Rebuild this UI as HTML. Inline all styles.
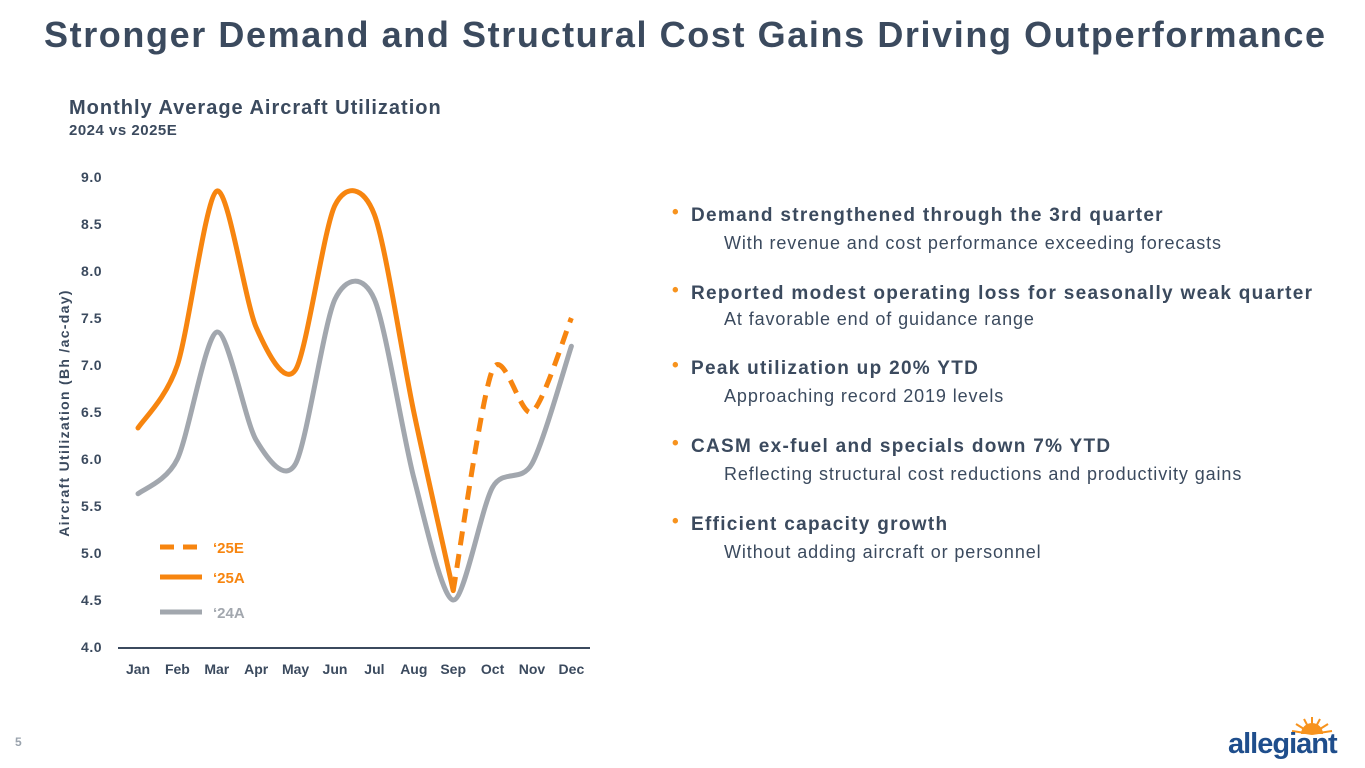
<!DOCTYPE html>
<html><head><meta charset="utf-8"><style>
body{margin:0;width:1365px;height:768px;background:#fff;font-family:"Liberation Sans",sans-serif;overflow:hidden;position:relative}
.t{position:absolute;white-space:nowrap}
h1{position:absolute;left:44px;top:14px;margin:0;font-size:36px;color:#3b4a5e;font-weight:bold;letter-spacing:1.6px;white-space:nowrap}
.b{position:absolute;left:674px;font-size:19px;font-weight:bold;color:#3b4a5e;letter-spacing:1.3px;white-space:nowrap}
.b:before{content:"•";color:#f7931e;position:absolute;left:-2px;top:-3px}
.b span{padding-left:17px}
.s{position:absolute;left:724px;font-size:18px;color:#3b4a5e;letter-spacing:0.9px;white-space:nowrap}
</style></head><body>
<h1>Stronger Demand and Structural Cost Gains Driving Outperformance</h1>
<div class="t" style="left:69px;top:97px;font-size:20px;font-weight:bold;color:#3b4a5e;letter-spacing:1px">Monthly Average Aircraft Utilization</div>
<div class="t" style="left:69px;top:122px;font-size:15px;font-weight:bold;color:#3b4a5e;letter-spacing:0.5px">2024 vs 2025E</div>
<svg id="c" width="640" height="700" style="position:absolute;left:0;top:0"></svg>
<div class="b" style="top:205px"><span>Demand strengthened through the 3rd quarter</span></div>
<div class="s" style="top:233px">With revenue and cost performance exceeding forecasts</div>
<div class="b" style="top:283px"><span>Reported modest operating loss for seasonally weak quarter</span></div>
<div class="s" style="top:309px">At favorable end of guidance range</div>
<div class="b" style="top:358px"><span>Peak utilization up 20% YTD</span></div>
<div class="s" style="top:386px">Approaching record 2019 levels</div>
<div class="b" style="top:436px"><span>CASM ex-fuel and specials down 7% YTD</span></div>
<div class="s" style="top:464px">Reflecting structural cost reductions and productivity gains</div>
<div class="b" style="top:514px"><span>Efficient capacity growth</span></div>
<div class="s" style="top:542px">Without adding aircraft or personnel</div>
<div class="t" style="left:15px;top:735px;font-size:12px;color:#9aa3ad;font-weight:bold">5</div>
<div style="position:absolute;left:1226px;top:712px;width:125px;height:50px">
<svg width="125" height="50" style="position:absolute;left:0;top:0"><g transform="translate(86,22)" stroke="#f7931e" stroke-width="2">
<line x1="0" y1="0" x2="-20" y2="-3"/><line x1="0" y1="0" x2="-16" y2="-10"/><line x1="0" y1="0" x2="-8" y2="-15"/><line x1="0" y1="0" x2="0" y2="-17"/><line x1="0" y1="0" x2="8" y2="-15"/><line x1="0" y1="0" x2="16" y2="-10"/><line x1="0" y1="0" x2="20" y2="-3"/></g><path d="M75,22 A11,11 0 0 1 97,22 Z" fill="#f7931e"/></svg>
<div class="t" style="left:2px;top:16px;font-size:29px;font-weight:bold;color:#1f4e8c;letter-spacing:-1px">allegiant</div></div>
<script>
const months=["Jan","Feb","Mar","Apr","May","Jun","Jul","Aug","Sep","Oct","Nov","Dec"];
const yTicks=[4.0,4.5,5.0,5.5,6.0,6.5,7.0,7.5,8.0,8.5,9.0];
const a25=[6.33,7.0,8.85,7.4,6.95,8.7,8.6,6.5,4.6];
const e25=[null,null,null,null,null,null,null,null,4.6,6.95,6.5,7.5];
const a24=[5.63,6.0,7.35,6.2,5.95,7.7,7.7,5.8,4.5,5.7,5.95,7.2];
const svg=document.getElementById('c');const NS='http://www.w3.org/2000/svg';
const X=i=>138+i*39.4, Y=v=>647-(v-4)*94;
function el(t,a,txt){const e=document.createElementNS(NS,t);for(const k in a)e.setAttribute(k,a[k]);if(txt!=null)e.textContent=txt;svg.appendChild(e);return e;}
yTicks.forEach(v=>{const e=el('text',{x:102,y:Y(v)+5,'text-anchor':'end','font-size':14,'font-weight':'bold',fill:'#3b4a5e','letter-spacing':0.5},v.toFixed(1));

});
months.forEach((m,i)=>{const e=el('text',{x:X(i),y:674,'text-anchor':'middle','font-size':14,'font-weight':'bold',fill:'#3b4a5e'},m);

});
const ax=el('line',{x1:118,x2:590,y1:648,y2:648,stroke:'#3b4a5e','stroke-width':2});


const yt=el('text',{transform:'translate(69,413) rotate(-90)','text-anchor':'middle','font-size':14,'font-weight':'bold',fill:'#3b4a5e','letter-spacing':1.3},'Aircraft Utilization (Bh /ac-day)');


function path(vals){const p=[];vals.forEach((v,i)=>{if(v!=null)p.push([X(i),Y(v)]);});
let d='M'+p[0][0]+','+p[0][1];const t=0.14;
for(let i=0;i<p.length-1;i++){const p0=p[i-1]||p[i],p1=p[i],p2=p[i+1],p3=p[i+2]||p2;
d+=` C${p1[0]+(p2[0]-p0[0])*t},${p1[1]+(p2[1]-p0[1])*t} ${p2[0]-(p3[0]-p1[0])*t},${p2[1]-(p3[1]-p1[1])*t} ${p2[0]},${p2[1]}`;}return d;}
const l24=el('path',{d:path(a24),fill:'none',stroke:'#a2a7ae','stroke-width':5,'stroke-linecap':'round'});


const l25=el('path',{d:path(a25),fill:'none',stroke:'#f7850f','stroke-width':5,'stroke-linecap':'round'});


const le=el('path',{d:path(e25),fill:'none',stroke:'#f7850f','stroke-width':5,'stroke-dasharray':'14 9'});


[["‘25E",'#f7850f','14 9',547],["‘25A",'#f7850f','',577],["‘24A",'#a2a7ae','',612]].forEach(l=>{
const ln=el('line',{x1:160,x2:202,y1:l[3],y2:l[3],stroke:l[1],'stroke-width':5,'stroke-dasharray':l[2]});


const tx=el('text',{x:213,y:l[3]+6,'font-size':15,'font-weight':'bold',fill:l[1]},l[0]);

});
</script>
</body></html>
